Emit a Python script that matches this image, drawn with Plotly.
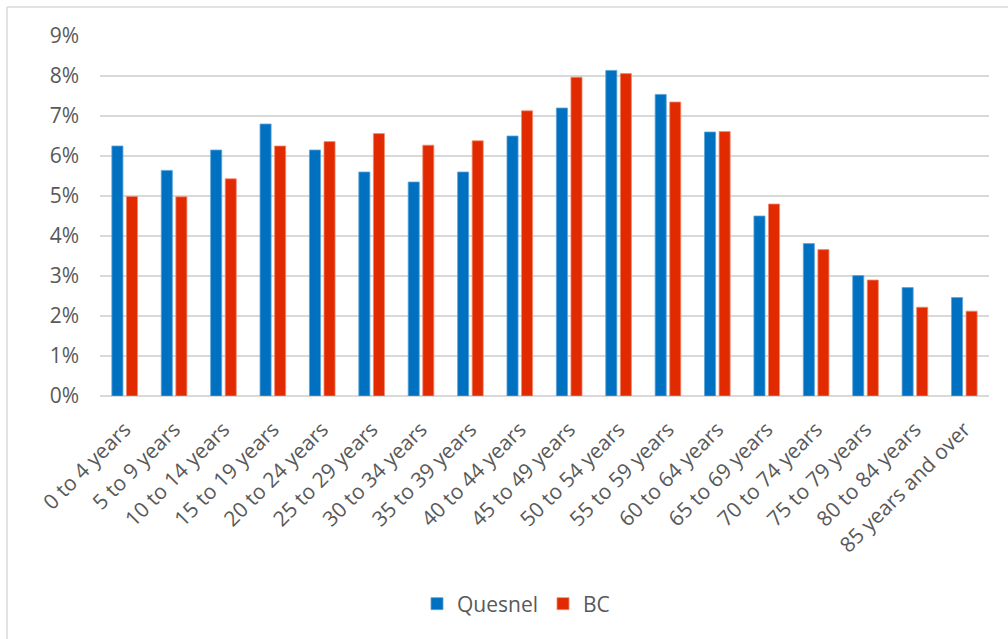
import plotly.graph_objects as go

age_groups = [
    "0 to 4 years", "5 to 9 years", "10 to 14 years", "15 to 19 years",
    "20 to 24 years", "25 to 29 years", "30 to 34 years", "35 to 39 years",
    "40 to 44 years", "45 to 49 years", "50 to 54 years", "55 to 59 years",
    "60 to 64 years", "65 to 69 years", "70 to 74 years", "75 to 79 years",
    "80 to 84 years", "85 years and over",
]
quesnel = [6.25, 5.64, 6.15, 6.80, 6.15, 5.60, 5.35, 5.60, 6.50,
           7.20, 8.14, 7.54, 6.60, 4.50, 3.81, 3.01, 2.71, 2.46]
bc = [4.99, 4.98, 5.43, 6.25, 6.36, 6.56, 6.27, 6.38, 7.13,
      7.97, 8.06, 7.35, 6.61, 4.80, 3.66, 2.90, 2.22, 2.12]
y_ticks = list(range(0, 10))
y_tick_labels = [f"{v}%" for v in y_ticks]

FONT = "Open Sans, Segoe UI, DejaVu Sans, sans-serif"
GREY = "#595959"
GRID = "#D9D9D9"

fig = go.Figure()
fig.add_trace(go.Bar(
    name="Quesnel", x=age_groups, y=quesnel,
    marker=dict(color="#0070C0", line=dict(color="#5BA3D9", width=0.8)),
))
fig.add_trace(go.Bar(
    name="BC", x=age_groups, y=bc,
    marker=dict(color="#E12A00", line=dict(color="#F08A70", width=0.8)),
))

# outer chart frame (left and top edges visible)
L, R, T, B = 100, 19, 36, 243
W, H = 1008, 639
pw, ph = W - L - R, H - T - B
fx = (7 - L) / pw
fy = 1 + (T - 7) / ph
fig.add_shape(type="line", xref="paper", yref="paper",
              x0=fx, x1=fx, y0=fy, y1=-2, line=dict(color=GRID, width=1.5))
fig.add_shape(type="line", xref="paper", yref="paper",
              x0=fx, x1=2, y0=fy, y1=fy, line=dict(color=GRID, width=1.5))

fig.update_layout(
    width=W, height=H,
    margin=dict(l=L, r=R, t=T, b=B, autoexpand=False),
    paper_bgcolor="white", plot_bgcolor="white",
    barmode="group", bargap=0.41, bargroupgap=0.24,
    font=dict(family=FONT, size=21, color=GREY),
    legend=dict(orientation="h", x=(516 - L) / pw, xanchor="center",
                y=(396 - 604) / ph, yanchor="middle",
                font=dict(size=21, color=GREY), itemwidth=30,
                traceorder="normal"),
    xaxis=dict(tickangle=-45, showgrid=False, showline=False,
               ticks="", ticklabelstandoff=16,
               tickfont=dict(size=21, color=GREY)),
    yaxis=dict(range=[0, 9], tickmode="array", tickvals=y_ticks,
               ticktext=y_tick_labels,
               showgrid=True, gridcolor=GRID, gridwidth=2,
               zeroline=True, zerolinecolor=GRID, zerolinewidth=2,
               showline=False, ticks="", ticklabelstandoff=20,
               tickfont=dict(size=21, color=GREY)),
)

fig.write_html("out.html")
